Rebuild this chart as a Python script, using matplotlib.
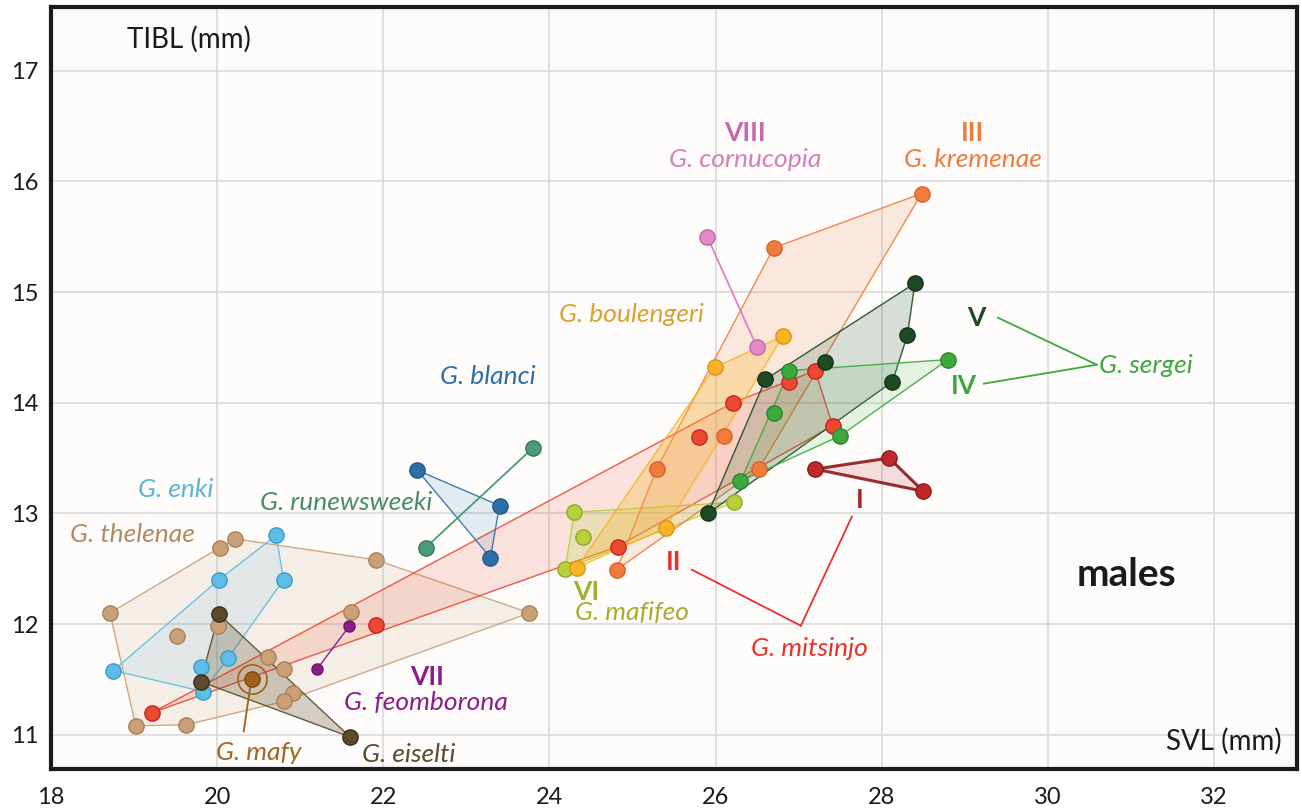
import numpy as np
import matplotlib
matplotlib.use("Agg")
import matplotlib.pyplot as plt
from matplotlib.patches import Polygon

plt.rcParams['font.family'] = ['Lato', 'DejaVu Sans']

# ---------------- data (SVL, TIBL) ----------------
thelenae_x = [18.71, 20.03, 20.22, 21.91, 23.76, 19.52, 20.01, 21.61, 20.61, 20.81, 20.91, 20.80, 19.02, 19.63]
thelenae_y = [12.10, 12.69, 12.77, 12.58, 12.10, 11.89, 11.98, 12.11, 11.70, 11.59, 11.38, 11.30, 11.08, 11.09]

enki_x = [20.71, 20.02, 20.80, 18.75, 19.81, 20.13, 19.83]
enki_y = [12.80, 12.40, 12.40, 11.58, 11.61, 11.69, 11.39]

eiselti_x = [20.02, 19.80, 21.60]
eiselti_y = [12.09, 11.48, 10.98]

mafy_x = [20.42]
mafy_y = [11.50]

feomborona_x = [21.20, 21.59]
feomborona_y = [11.59, 11.98]

blanci_x = [22.41, 23.40, 23.29]
blanci_y = [13.39, 13.07, 12.60]

runewsweeki_x = [23.80, 22.51]
runewsweeki_y = [13.59, 12.69]

mitsinjo2_x = [19.22, 21.91, 24.82, 25.80, 26.21, 26.89, 27.20, 27.41]
mitsinjo2_y = [11.20, 11.99, 12.70, 13.69, 14.00, 14.19, 14.29, 13.79]

mitsinjo1_x = [27.20, 28.09, 28.50]
mitsinjo1_y = [13.40, 13.50, 13.20]

mafifeo_x = [24.30, 24.40, 24.19, 26.22]
mafifeo_y = [13.01, 12.79, 12.50, 13.10]

boulengeri_x = [24.33, 25.99, 26.81, 25.40]
boulengeri_y = [12.51, 14.32, 14.60, 12.87]

kremenae_x = [24.81, 25.29, 26.70, 28.48, 26.10, 26.52]
kremenae_y = [12.49, 13.40, 15.40, 15.89, 13.70, 13.40]

cornucopia_x = [25.90, 26.50]
cornucopia_y = [15.50, 14.50]

sergeiV_x = [25.91, 26.60, 27.32, 28.40, 28.31, 28.13]
sergeiV_y = [13.00, 14.21, 14.37, 15.08, 14.61, 14.19]

sergeiIV_x = [26.30, 26.70, 26.89, 28.80, 27.50]
sergeiIV_y = [13.29, 13.91, 14.29, 14.39, 13.70]

x_ticks = [18, 20, 22, 24, 26, 28, 30, 32]
y_ticks = [11, 12, 13, 14, 15, 16, 17]


def hull(xs, ys):
    pts = sorted(set(zip(xs, ys)))
    if len(pts) < 3:
        return pts

    def cross(o, a, b):
        return (a[0] - o[0]) * (b[1] - o[1]) - (a[1] - o[1]) * (b[0] - o[0])
    lower, upper = [], []
    for p in pts:
        while len(lower) >= 2 and cross(lower[-2], lower[-1], p) <= 0:
            lower.pop()
        lower.append(p)
    for p in reversed(pts):
        while len(upper) >= 2 and cross(upper[-2], upper[-1], p) <= 0:
            upper.pop()
        upper.append(p)
    return lower[:-1] + upper[:-1]


fig = plt.figure(figsize=(13.02, 8.09), dpi=100)
fig.patch.set_facecolor('white')
ax = fig.add_axes([51 / 1302, 1 - 769 / 809, (1297 - 51) / 1302, (769 - 6.5) / 809])
ax.set_facecolor('#fdfcfa')
ax.set_xlim(18, 33)
ax.set_ylim(10.69, 17.58)
ax.set_xticks(x_ticks)
ax.set_yticks(y_ticks)
ax.set_xticklabels([str(t) for t in x_ticks])
ax.set_yticklabels([str(t) for t in y_ticks])
ax.tick_params(length=0, labelsize=17, colors='#1a1a1a')
ax.tick_params(axis='x', pad=13)
ax.tick_params(axis='y', pad=9)
ax.grid(True, color='#dadada', lw=1.2)
ax.set_axisbelow(True)
for s in ax.spines.values():
    s.set_linewidth(3)
    s.set_color('#1a1a1a')

groups = [
    # x, y, face, edge, fill alpha, polygon-edge width, marker size
    (thelenae_x, thelenae_y, '#c9a078', '#a88058', 0.15, 1.0, 11),
    (enki_x, enki_y, '#5cbde6', '#3c9cc6', 0.13, 1.0, 11),
    (mitsinjo2_x, mitsinjo2_y, '#ec4a30', '#c42222', 0.15, 1.0, 11),
    (eiselti_x, eiselti_y, '#5c4a2c', '#3a2e1a', 0.26, 1.0, 11),
    (blanci_x, blanci_y, '#2f6fa8', '#25578a', 0.12, 1.0, 11),
    (mafifeo_x, mafifeo_y, '#b8d03a', '#95a82a', 0.22, 1.0, 11),
    (kremenae_x, kremenae_y, '#f07c3c', '#d8602a', 0.15, 1.0, 11),
    (boulengeri_x, boulengeri_y, '#f7b526', '#d89518', 0.28, 1.0, 11),
    (sergeiV_x, sergeiV_y, '#1e4a24', '#143218', 0.17, 1.0, 11),
    (sergeiIV_x, sergeiIV_y, '#3da83d', '#2a862a', 0.12, 1.0, 11),
    (mitsinjo1_x, mitsinjo1_y, '#c0282c', '#8b1a1a', 0.15, 2.2, 11),
]

z = 2
for xs, ys, fc, ec, al, lw, ms in groups:
    h = hull(xs, ys)
    poly = Polygon(h, closed=True, facecolor=fc, alpha=al, edgecolor='none', zorder=z)
    ax.add_patch(poly)
    poly2 = Polygon(h, closed=True, facecolor='none', edgecolor=ec if lw > 1.5 else fc,
                    lw=lw, alpha=0.9, zorder=z + 0.1)
    ax.add_patch(poly2)
    z += 0.2

# two-point groups as lines
ax.plot(runewsweeki_x, runewsweeki_y, color='#4b9a7a', lw=1.3, zorder=4)
ax.plot(cornucopia_x, cornucopia_y, color='#e07ec0', lw=1.3, zorder=4)
ax.plot(feomborona_x, feomborona_y, color='#8c1c8c', lw=1.0, zorder=4)

# markers
z = 10
for xs, ys, fc, ec, al, lw, ms in groups:
    ax.plot(xs, ys, 'o', ms=ms, mfc=fc, mec=ec, mew=1.0, ls='none', zorder=z)
    z += 0.1
ax.plot(runewsweeki_x, runewsweeki_y, 'o', ms=11, mfc='#4b9a7a', mec='#357a5c', mew=1.0, zorder=11)
ax.plot(cornucopia_x, cornucopia_y, 'o', ms=11, mfc='#e488c8', mec='#c066a6', mew=1.0, zorder=11)
ax.plot(feomborona_x, feomborona_y, 'o', ms=8, mfc='#8c1c8c', mec='#6e126e', mew=1.0, zorder=11)
ax.plot(mafy_x, mafy_y, 'o', ms=11, mfc='#a0601c', mec='#7a4510', mew=1.0, zorder=12)
ax.plot(mafy_x, mafy_y, 'o', ms=21, mfc='none', mec='#a0601c', mew=1.2, zorder=12)

# annotation lines
ax.plot([29.40, 30.59], [14.768, 14.343], color='#3da83d', lw=1.3, zorder=5)
ax.plot([29.23, 30.59], [14.172, 14.343], color='#3da83d', lw=1.3, zorder=5)
ax.plot([25.715, 27.027], [12.491, 11.985], color='#e8322c', lw=1.3, zorder=5)
ax.plot([27.641, 27.027], [12.970, 11.985], color='#e8322c', lw=1.3, zorder=5)
ax.plot([20.399, 20.32], [11.436, 11.03], color='#a0601c', lw=1.3, zorder=5)

# text
fs = 19
def it(x, y, s, c, ha='center'):
    ax.text(x, y, s, color=c, fontsize=fs, style='italic', ha=ha, va='center', zorder=20)

def bd(x, y, s, c):
    ax.text(x, y, s, color=c, fontsize=fs, fontweight='bold', ha='center', va='center', zorder=20)

ax.text(18.92, 17.28, 'TIBL (mm)', fontsize=20, ha='left', va='center', color='#1a1a1a')
ax.text(32.82, 10.94, 'SVL (mm)', fontsize=20, ha='right', va='center', color='#1a1a1a')
ax.text(30.95, 12.446, 'males', fontsize=28, fontweight='bold', ha='center', va='center', color='#1a1a1a')

bd(26.353, 16.44, 'VIII', '#c96aa8')
it(26.353, 16.196, 'G. cornucopia', '#d77fb8')
bd(29.098, 16.44, 'III', '#ef7b3e')
it(29.098, 16.196, 'G. kremenae', '#ef7b3e')
it(24.993, 14.795, 'G. boulengeri', '#dba22e')
it(23.26, 14.235, 'G. blanci', '#2f6fa8')
bd(29.134, 14.768, 'V', '#1e4a24')
bd(28.99, 14.153, 'IV', '#3da83d')
it(30.614, 14.334, 'G. sergei', '#3da83d', ha='left')
bd(27.738, 13.123, 'I', '#a8242a')
bd(25.50, 12.563, 'II', '#e8322c')
it(27.136, 11.777, 'G. mitsinjo', '#e8322c')
bd(24.44, 12.292, 'VI', '#a0b030')
it(24.99, 12.10, 'G. mafifeo', '#a0b030')
it(19.505, 13.214, 'G. enki', '#5ab4d8')
it(21.557, 13.096, 'G. runewsweeki', '#4b8a6c')
it(18.975, 12.807, 'G. thelenae', '#b08a64')
bd(22.526, 11.524, 'VII', '#8c1c8c')
it(22.514, 11.289, 'G. feomborona', '#8c1c8c')
it(20.50, 10.837, 'G. mafy', '#a0662a')
it(22.31, 10.82, 'G. eiselti', '#5a4a30')

fig.savefig('out.png', dpi=100)
